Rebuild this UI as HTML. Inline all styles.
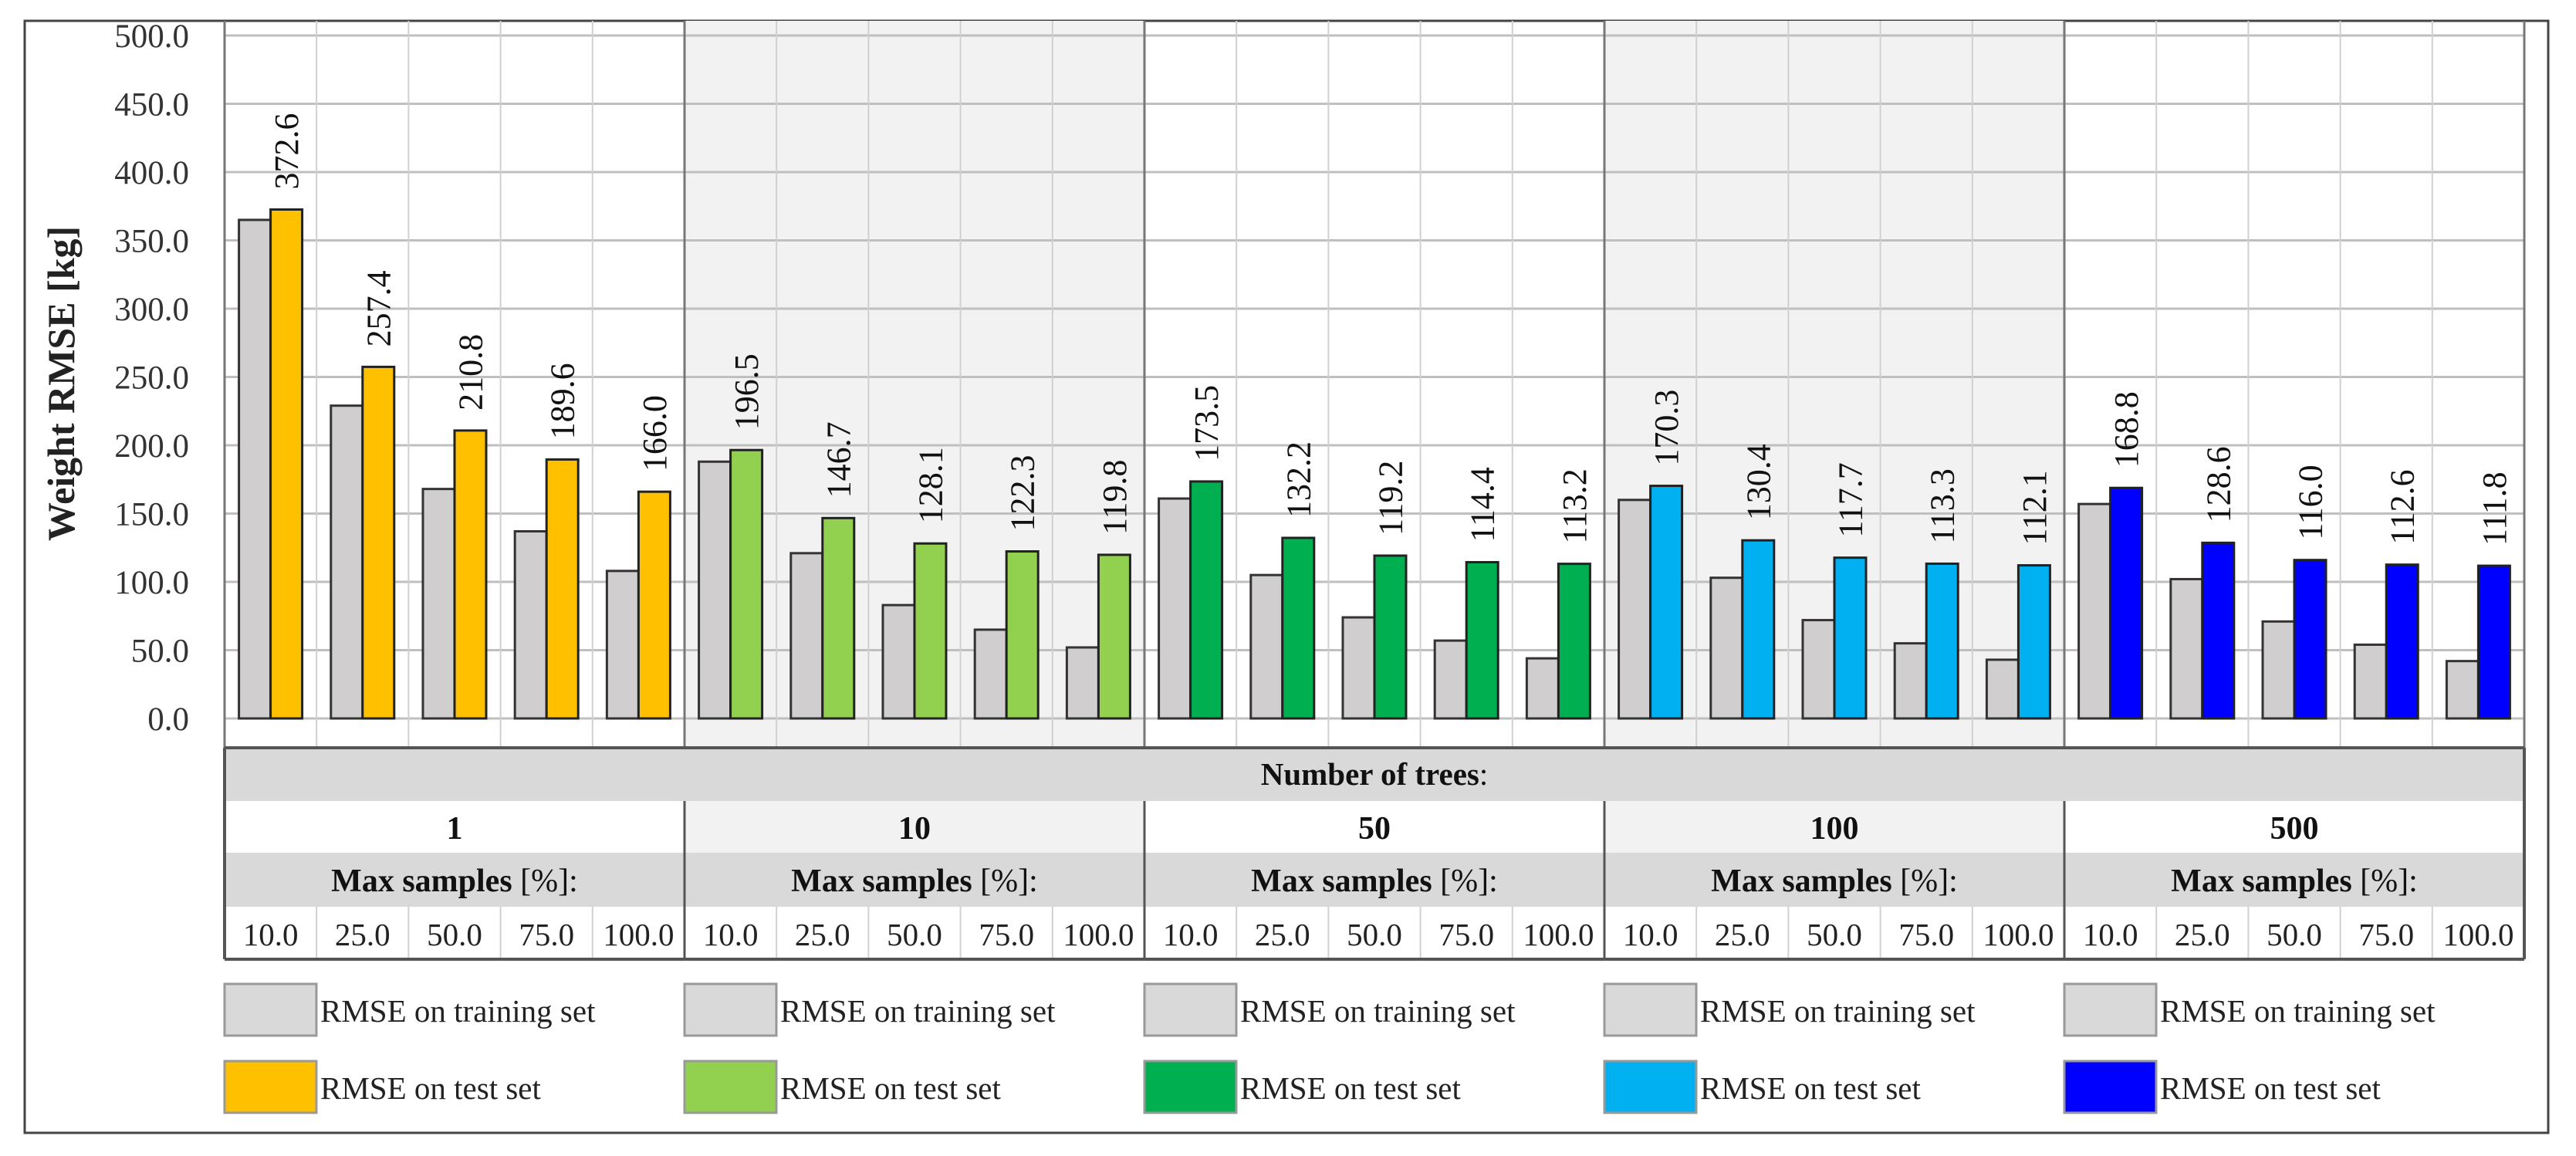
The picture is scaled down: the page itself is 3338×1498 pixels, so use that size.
<!DOCTYPE html>
<html><head><meta charset="utf-8">
<style>
html,body{margin:0;padding:0;background:#fff;}
svg{display:block;font-family:"Liberation Serif",serif;}
</style></head>
<body>
<svg id="chart" width="3338" height="1498" viewBox="0 0 3338 1498" xmlns="http://www.w3.org/2000/svg">
<rect x="32" y="27" width="3270" height="1441" fill="#fff" stroke="#444" stroke-width="3"/>
<g id="bg"></g>
<g id="grid"></g>
<g id="bars"></g>
<g id="labels"></g>
<g id="table"></g>
<g id="legend"></g>
<text transform="translate(96,497) rotate(-90)" text-anchor="middle" font-size="50" font-weight="bold" fill="#222">Weight RMSE [kg]</text>
</svg>
<script>
const groups = ["1","10","50","100","500"];
const samples = ["10.0","25.0","50.0","75.0","100.0"];
const trainValues = [
  [365,229,168,137,108],
  [188,121,83,65,52],
  [161,105,74,57,44],
  [160,103,72,55,43],
  [157,102,71,54,42]
];
const testValues = [
  [372.6,257.4,210.8,189.6,166.0],
  [196.5,146.7,128.1,122.3,119.8],
  [173.5,132.2,119.2,114.4,113.2],
  [170.3,130.4,117.7,113.3,112.1],
  [168.8,128.6,116.0,112.6,111.8]
];
const testColors = ["#FFC000","#92D050","#00B050","#00B0F0","#0000FF"];
const yTicks = [0,50,100,150,200,250,300,350,400,450,500];

const NS="http://www.w3.org/2000/svg";
const X0=291, X1=3271, Y0=931, Y500=46, PT=27, PB=969;
const GW=(X1-X0)/groups.length, CW=GW/samples.length;
const y = v => Y0 - (v/500)*(Y0-Y500);
const colX = (g,s) => X0 + g*GW + s*CW;
function mk(tag, attrs, parent){const e=document.createElementNS(NS,tag);for(const k in attrs)e.setAttribute(k,attrs[k]);parent.appendChild(e);return e;}
const bg=document.getElementById('bg'), grid=document.getElementById('grid'), bars=document.getElementById('bars'), labels=document.getElementById('labels'), table=document.getElementById('table'), legend=document.getElementById('legend');

groups.forEach((g,i)=>{
  if(i%2===1){
    const r=mk('rect',{x:X0+i*GW,y:PT,width:GW,height:PB-PT,fill:'#F2F2F2'},bg);
    
    
  }
});
yTicks.forEach(t=>{
  const l=mk('line',{x1:X0,x2:X1,y1:y(t),y2:y(t),stroke:'#BFBFBF','stroke-width':3},grid);
  
  
  const tx=mk('text',{x:245,y:y(t)+15,'text-anchor':'end','font-size':43,fill:'#333'},grid);
  tx.textContent=t.toFixed(1);
  
  
});
for(let g=0;g<groups.length;g++){
  for(let s=0;s<samples.length;s++){
    const x=colX(g,s);
    const l=mk('line',{x1:x,x2:x,y1:PT,y2:PB,stroke:s===0?'#777':'#D0D0D0','stroke-width':s===0?3:2},grid);
    
    
  }
}
{const l=mk('line',{x1:X1,x2:X1,y1:PT,y2:PB,stroke:'#777','stroke-width':3},grid);
 
 }
const BW=41;
groups.forEach((g,gi)=>{
  samples.forEach((s,si)=>{
    const cx=colX(gi,si)+CW/2;
    const tr=trainValues[gi][si], te=testValues[gi][si];
    const b1=mk('rect',{x:cx-BW,y:y(tr),width:BW,height:Y0-y(tr),fill:'#D0CECE',stroke:'#333','stroke-width':3},bars);
    
    
    const b2=mk('rect',{x:cx,y:y(te),width:BW,height:Y0-y(te),fill:testColors[gi],stroke:'#222','stroke-width':3},bars);
    
    
    const lx=cx+BW/2+15, ly=y(te)-26;
    const t=mk('text',{transform:`translate(${lx},${ly}) rotate(-90)`,'font-size':44,fill:'#111'},labels);
    t.textContent=te.toFixed(1);
    
    
  });
});
const R1=969,R2=1038,R3=1105,R4=1175,R5=1243;
{const r=mk('rect',{x:X0,y:R1,width:X1-X0,height:R2-R1,fill:'#D9D9D9'},table);
 
 
 const t=mk('text',{x:(X0+X1)/2,y:R1+48,'text-anchor':'middle','font-size':41,'font-weight':'bold',fill:'#111'},table);
 t.innerHTML='Number of trees<tspan font-weight="normal">:</tspan>';
 
 }
groups.forEach((g,gi)=>{
  const gx=X0+gi*GW;
  const r=mk('rect',{x:gx,y:R2,width:GW,height:R3-R2,fill:gi%2?'#F2F2F2':'#fff'},table);
  
  
  const t=mk('text',{x:gx+GW/2,y:R2+49,'text-anchor':'middle','font-size':42,'font-weight':'bold',fill:'#111'},table);
  t.textContent=g;
  
  
  const r2=mk('rect',{x:gx,y:R3,width:GW,height:R4-R3,fill:'#D9D9D9'},table);
  
  
  const t2=mk('text',{x:gx+GW/2,y:R3+50,'text-anchor':'middle','font-size':42,fill:'#111'},table);
  t2.innerHTML='<tspan font-weight="bold">Max samples</tspan> [%]:';
  
  
  samples.forEach((s,si)=>{
    const cx=colX(gi,si);
    const t3=mk('text',{x:cx+CW/2,y:R4+50,'text-anchor':'middle','font-size':41,fill:'#222'},table);
    t3.textContent=s;
    
    
    if(si>0){const l=mk('line',{x1:cx,x2:cx,y1:R4,y2:R5,stroke:'#D0D0D0','stroke-width':2},table);
      
      }
  });
  const d=mk('line',{x1:gx,x2:gx,y1:R2,y2:R5,stroke:'#555','stroke-width':3},table);
  
  
});
[[X0,R1,X0,R5],[X1,R1,X1,R5],[X0,R1,X1,R1],[X0,R5,X1,R5]].forEach(c=>{
  const l=mk('line',{x1:c[0],y1:c[1],x2:c[2],y2:c[3],stroke:'#555','stroke-width':4},table);
  
  
});
groups.forEach((g,gi)=>{
  const gx=X0+gi*GW;
  [['#D9D9D9','RMSE on training set',1275],[testColors[gi],'RMSE on test set',1375]].forEach((e,k)=>{
    const r=mk('rect',{x:gx,y:e[2],width:119,height:67,fill:e[0],stroke:'#999','stroke-width':3},legend);
    
    
    const t=mk('text',{x:gx+124,y:e[2]+49,'font-size':41,fill:'#222'},legend);
    t.textContent=e[1];
    
    
  });
});
</script>
</body></html>
